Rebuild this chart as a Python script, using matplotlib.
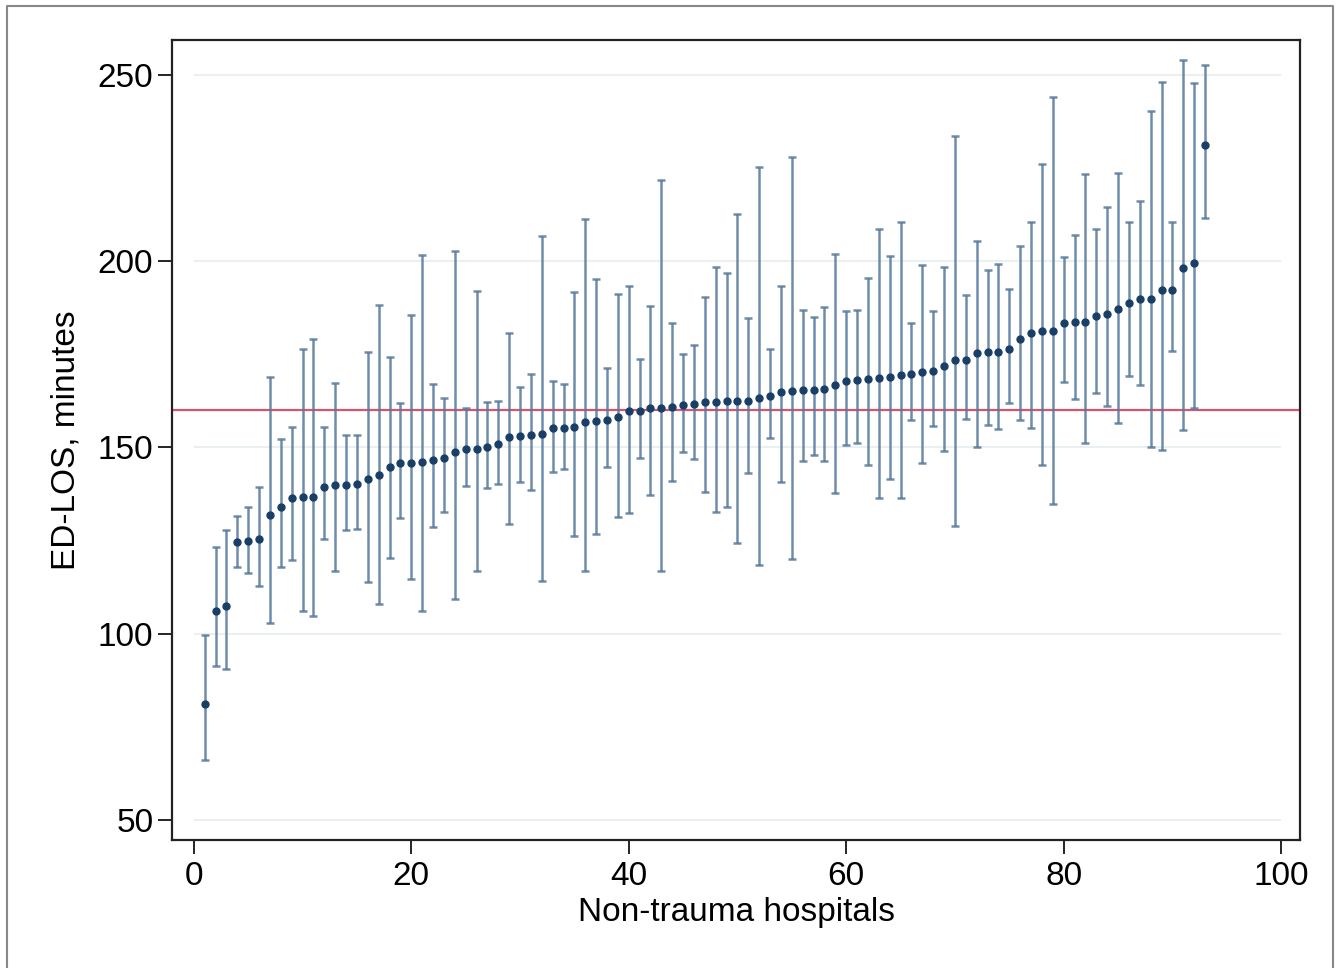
import numpy as np
import matplotlib.pyplot as plt
from matplotlib.lines import Line2D

plt.rcParams['font.family'] = ['Liberation Sans', 'DejaVu Sans']

# hospital-level mean ED-LOS (minutes) with 95% CI, sorted ascending
mean_los = [81.1, 106.1, 107.5, 124.5, 125.0, 125.4, 131.9, 133.9, 136.4, 136.8,
            136.8, 139.5, 139.9, 139.9, 140.1, 141.4, 142.6, 144.8, 145.8, 145.8,
            146.1, 146.6, 147.3, 148.9, 149.7, 149.7, 150.1, 150.9, 152.8, 153.1,
            153.4, 153.5, 155.1, 155.2, 155.5, 156.9, 157.2, 157.5, 158.3, 159.9,
            159.9, 160.7, 160.7, 160.9, 161.3, 161.6, 162.1, 162.3, 162.5, 162.6,
            162.6, 163.2, 163.9, 164.8, 165.2, 165.4, 165.4, 165.7, 166.8, 167.8,
            168.1, 168.5, 168.6, 168.8, 169.4, 169.8, 170.3, 170.5, 172.0, 173.4,
            173.4, 175.4, 175.5, 175.7, 176.4, 179.0, 180.7, 181.3, 181.4, 183.5,
            183.6, 183.6, 185.4, 185.8, 187.1, 188.7, 189.9, 189.9, 192.4, 192.4,
            198.2, 199.4, 231.1]
ci_upper = [99.7, 123.4, 127.9, 131.6, 134.1, 139.5, 169.0, 152.2, 155.4, 176.4,
            179.1, 155.4, 167.4, 153.4, 153.4, 175.5, 188.3, 174.4, 162.0, 185.6,
            201.7, 167.0, 163.4, 202.8, 160.5, 191.9, 162.2, 162.6, 180.8, 166.2,
            169.8, 206.7, 167.9, 167.0, 191.7, 211.3, 195.3, 171.3, 191.3, 193.4,
            173.8, 188.1, 221.8, 183.3, 175.0, 177.6, 190.5, 198.5, 196.9, 212.7,
            184.8, 225.2, 176.4, 193.4, 228.0, 187.0, 185.1, 187.6, 201.9, 186.7,
            186.8, 195.5, 208.6, 201.5, 210.5, 183.3, 198.9, 186.6, 198.5, 233.6,
            191.0, 205.3, 197.7, 199.3, 192.6, 204.0, 210.6, 226.1, 244.2, 201.2,
            207.1, 223.3, 208.7, 214.6, 223.8, 210.5, 216.3, 240.2, 248.0, 210.5,
            253.9, 247.8, 252.6]
ci_lower = [66.1, 91.2, 90.5, 118.0, 116.4, 112.9, 103.0, 118.0, 119.8, 106.1,
            104.8, 125.4, 116.9, 127.9, 128.2, 113.8, 108.1, 120.3, 131.0, 114.6,
            106.2, 128.7, 132.7, 109.4, 139.7, 116.9, 139.2, 140.2, 129.4, 140.8,
            138.6, 114.2, 143.3, 144.2, 126.3, 116.8, 126.7, 144.8, 131.2, 132.5,
            147.3, 137.2, 116.7, 141.1, 148.8, 147.0, 138.1, 132.8, 134.1, 124.3,
            143.1, 118.5, 152.6, 140.7, 120.0, 146.4, 148.0, 146.4, 137.7, 150.7,
            151.1, 145.3, 136.3, 141.5, 136.5, 157.3, 145.8, 155.8, 149.1, 129.0,
            157.6, 150.0, 155.9, 155.0, 161.9, 157.3, 155.2, 145.4, 134.8, 167.5,
            162.9, 151.1, 164.7, 161.1, 156.5, 169.2, 166.7, 150.0, 149.3, 175.9,
            154.8, 160.5, 211.7]
overall_mean = 160.0

hospital = np.arange(1, len(mean_los) + 1)
mean_los = np.array(mean_los)
lo = mean_los - np.array(ci_lower)
hi = np.array(ci_upper) - mean_los

fig = plt.figure(figsize=(13.39, 9.68), dpi=100)
ax = fig.add_axes([0.1285, 0.1322, 0.8425, 0.8265])

# faint horizontal grid like stata, only across the x range
ax.hlines([50, 100, 150, 200, 250], 0, 100, color='#eaf0f0', lw=1.5, zorder=0)

ax.axhline(overall_mean, color='#d6546e', lw=1.6, zorder=1)

ax.errorbar(hospital, mean_los, yerr=[lo, hi], fmt='none',
            ecolor='#56799c', elinewidth=1.8, capsize=3, capthick=1.8,
            alpha=0.85, zorder=2)
ax.plot(hospital, mean_los, 'o', color='#1a3f66', ms=5, zorder=3)

ax.set_xlim(-2.0, 101.75)
ax.set_ylim(44.6, 259.4)
ax.set_xticks([0, 20, 40, 60, 80, 100])
ax.set_yticks([50, 100, 150, 200, 250])
ax.tick_params(labelsize=24, length=10, width=1.2, direction='out')
ax.tick_params(axis='x', pad=5)
ax.set_xlabel('Non-trauma hospitals', fontsize=24, labelpad=4)
ax.set_ylabel('ED-LOS, minutes', fontsize=24, labelpad=12)
for s in ax.spines.values():
    s.set_linewidth(1.6)
    s.set_color('#222222')

# outer border of the graph region (bottom is cropped off)
x0, x1, ytop = 0.0055, 0.9955, 0.9938
fig.lines.append(Line2D([x0, x0, x1, x1], [0, ytop, ytop, 0], transform=fig.transFigure,
                        color='#888888', lw=1.5))

fig.savefig('out.png', dpi=100)
